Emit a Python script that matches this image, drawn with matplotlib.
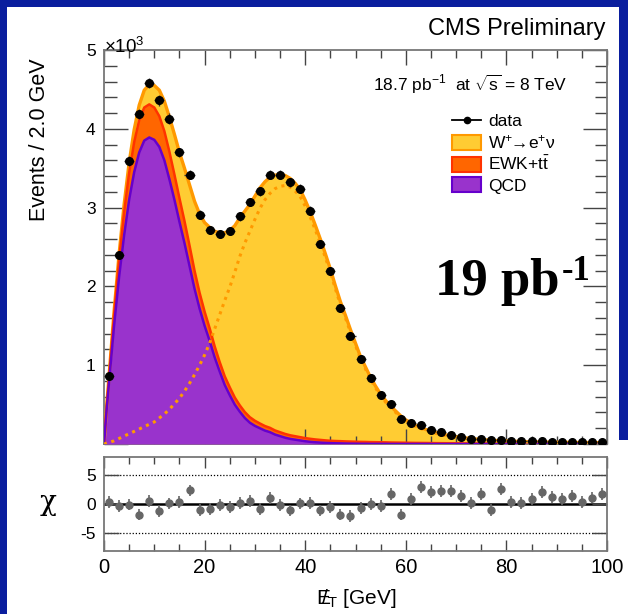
import numpy as np
import matplotlib
matplotlib.use('Agg')
import matplotlib.pyplot as plt
from matplotlib.ticker import MultipleLocator, FixedLocator
from matplotlib.patches import Patch, Rectangle
from matplotlib.lines import Line2D

plt.rcParams['font.family'] = ['Liberation Sans', 'DejaVu Sans']
plt.rcParams['mathtext.fontset'] = 'custom'
plt.rcParams['mathtext.rm'] = 'Liberation Sans'
plt.rcParams['mathtext.it'] = 'Liberation Sans:italic'
plt.rcParams['mathtext.bf'] = 'Liberation Sans:bold'
plt.rcParams['axes.unicode_minus'] = False

# ---------------- data (events in units of 10^3, 2 GeV bins) ----------------
bin_centers = [1, 3, 5, 7, 9, 11, 13, 15, 17, 19, 21, 23, 25, 27, 29, 31, 33, 35, 37, 39,
               41, 43, 45, 47, 49, 51, 53, 55, 57, 59, 61, 63, 65, 67, 69, 71, 73, 75, 77, 79,
               81, 83, 85, 87, 89, 91, 93, 95, 97, 99]
data_k = [0.86, 2.40, 3.59, 4.19, 4.58, 4.36, 4.13, 3.70, 3.42, 2.91,
          2.72, 2.66, 2.70, 2.89, 3.07, 3.21, 3.42, 3.42, 3.32, 3.24,
          2.96, 2.54, 2.19, 1.73, 1.37, 1.08, 0.84, 0.62, 0.51, 0.32,
          0.27, 0.24, 0.18, 0.15, 0.11, 0.09, 0.06, 0.06, 0.045, 0.055,
          0.04, 0.035, 0.035, 0.035, 0.03, 0.03, 0.03, 0.025, 0.025, 0.025]
chi = [0.4, -0.3, -0.1, -1.8, 0.45, -1.25, 0.1, 0.3, 2.3, -1.0,
       -0.85, -0.2, -0.55, 0.2, 0.55, -0.85, 1.0, -0.2, -1.1, 0.1,
       0.2, -1.1, -0.55, -1.8, -2.1, -0.7, -0.05, -0.35, 1.7, -1.8,
       0.85, 2.85, 2.0, 2.15, 2.15, 1.4, 0.15, 1.7, -1.0, 2.55,
       0.4, 0.2, 0.9, 2.0, 1.15, 0.9, 1.4, 0.4, 1.1, 1.7]

# fit components sampled along MET (units of 10^3 events / 2 GeV)
curve_x = [0, 0.5, 1, 2, 3, 4, 5, 6, 7, 8, 9, 10, 11, 12, 13, 14, 15, 16, 17, 18, 19, 20,
           21, 22, 23, 24, 25, 26, 27, 28, 29, 30, 31, 32, 33, 34, 35, 36, 37, 38, 39, 40,
           41, 42, 43, 44, 45, 46, 47, 48, 49, 50, 51, 52, 53, 54, 55, 56, 57, 58, 59, 60,
           62, 64, 66, 68, 70, 72, 74, 76, 78, 80, 82, 84, 86, 88, 90, 92, 94, 96, 98, 100]
qcd_k = [0, 0.42, 0.78, 1.5, 2.12, 2.65, 3.1, 3.45, 3.7, 3.85, 3.89, 3.86, 3.77, 3.6, 3.36,
         3.1, 2.82, 2.55, 2.26, 1.97, 1.72, 1.5, 1.31, 1.1, 0.92, 0.75, 0.62, 0.5, 0.41, 0.33,
         0.27, 0.23, 0.2, 0.17, 0.15, 0.12, 0.1, 0.08, 0.065, 0.055, 0.045, 0.035,
         0.028, 0.022, 0.018, 0.014, 0.011, 0.009, 0.008, 0.006, 0.005, 0.004,
         0.003, 0.003, 0.002, 0.002, 0.002, 0.002, 0.001, 0.001, 0.001, 0.001,
         0.001, 0.001, 0, 0, 0, 0, 0, 0, 0, 0, 0, 0, 0, 0, 0, 0, 0, 0, 0, 0]
ewk_k = [0, 0.03, 0.06, 0.14, 0.22, 0.29, 0.34, 0.38, 0.41, 0.42, 0.42, 0.41, 0.39, 0.37, 0.35,
         0.32, 0.3, 0.28, 0.26, 0.23, 0.2, 0.18, 0.16, 0.14, 0.12, 0.11, 0.1, 0.09, 0.08, 0.075,
         0.07, 0.065, 0.06, 0.058, 0.055, 0.052, 0.05, 0.048, 0.046, 0.044, 0.042, 0.04,
         0.038, 0.036, 0.034, 0.032, 0.03, 0.029, 0.028, 0.027, 0.026, 0.025,
         0.024, 0.023, 0.022, 0.021, 0.02, 0.019, 0.018, 0.017, 0.016, 0.015,
         0.013, 0.012, 0.011, 0.01, 0.009, 0.008, 0.007, 0.007, 0.006, 0.006,
         0.005, 0.005, 0.005, 0.004, 0.004, 0.004, 0.003, 0.003, 0.003, 0.003]
wenu_k = [0, 0.01, 0.02, 0.04, 0.07, 0.1, 0.13, 0.16, 0.19, 0.22, 0.25, 0.28, 0.33, 0.38, 0.44,
          0.51, 0.58, 0.67, 0.77, 0.88, 1.0, 1.13, 1.28, 1.46, 1.64, 1.82, 1.99, 2.18, 2.38, 2.55,
          2.70, 2.85, 2.99, 3.10, 3.18, 3.24, 3.27, 3.28, 3.26, 3.21, 3.14, 3.02,
          2.88, 2.72, 2.55, 2.37, 2.18, 1.97, 1.77, 1.6, 1.42, 1.25,
          1.08, 0.95, 0.82, 0.71, 0.61, 0.53, 0.46, 0.4, 0.34, 0.29,
          0.22, 0.17, 0.135, 0.105, 0.085, 0.068, 0.055, 0.045, 0.038, 0.032,
          0.028, 0.025, 0.022, 0.02, 0.018, 0.017, 0.016, 0.015, 0.014, 0.013]

legend_labels = ['data', r'$\mathrm{W}^{+}\!\!\rightarrow\!\mathrm{e}^{+}\mathrm{\nu}$',
                 r'EWK+t$\bar{\mathrm{t}}$', 'QCD']

# ---------------- styling ----------------
W, H = 628, 614
def fx(px):
    return px / W
def fy(py):
    return 1 - py / H

C_W, E_W = '#ffcc33', '#ff9900'
C_EWK, E_EWK = '#ff6600', '#ff3300'
C_QCD, E_QCD = '#9933cc', '#6600cc'
FRAME = '#0a1e9e'
SPINE = '#777777'

fig = plt.figure(figsize=(W / 100, H / 100), dpi=100)
fig.patch.set_facecolor('white')

# blue slide frame
for (x0, y0, w, h) in [(0, 0, 7, H), (0, 0, W, 7), (619, 0, W - 619, 440)]:
    fig.add_artist(Rectangle((fx(x0), fy(y0 + h)), w / W, h / H,
                             transform=fig.transFigure, facecolor=FRAME,
                             edgecolor='none', zorder=0))

ax = fig.add_axes([fx(104), fy(444), (607 - 104) / W, (444 - 50) / H])
rax = fig.add_axes([fx(104), fy(551), (607 - 104) / W, (551 - 457) / H])

cx = np.array(curve_x)
q = np.array(qcd_k)
e = np.array(ewk_k)
w = np.array(wenu_k)
qe = q + e
tot = qe + w

ax.fill_between(cx, 0, tot, color=C_W, lw=0, zorder=1)
ax.fill_between(cx, 0, qe, color=C_EWK, lw=0, zorder=2)
ax.fill_between(cx, 0, q, color=C_QCD, lw=0, zorder=3)
ax.plot(cx, tot, color=E_W, lw=2.4, zorder=4)
ax.plot(cx, qe, color=E_EWK, lw=1.8, zorder=4)
ax.plot(cx, q, color=E_QCD, lw=1.8, zorder=4)
ax.plot(cx, w, color=E_W, lw=2.2, ls=(0, (1, 1.5)), zorder=5)

bc = np.array(bin_centers)
dk = np.array(data_k)
derr = np.sqrt(dk * 1000.0) / 1000.0
ax.errorbar(bc, dk, xerr=1.0, yerr=derr, fmt='o', color='black', ms=5.5,
            ecolor='#333333', elinewidth=1.0, capsize=0, zorder=6)

ax.set_xlim(0, 100)
ax.set_ylim(0, 5)
ax.xaxis.set_major_locator(MultipleLocator(20))
ax.xaxis.set_minor_locator(MultipleLocator(5))
ax.yaxis.set_major_locator(FixedLocator([0, 1, 2, 3, 4, 5]))
ax.yaxis.set_minor_locator(MultipleLocator(0.2))
ax.set_yticklabels(['', '1', '2', '3', '4', '5'])
ax.tick_params(axis='both', which='both', direction='in', top=True, right=True,
               color='#444444', width=1.0)
ax.tick_params(axis='y', which='major', length=17, labelsize=12.5, pad=6)
ax.tick_params(axis='y', which='minor', length=9)
ax.tick_params(axis='x', which='major', length=11, labelbottom=False)
ax.tick_params(axis='x', which='minor', length=6)
for s in ax.spines.values():
    s.set_color(SPINE)
    s.set_linewidth(1.3)

handles = [Line2D([], [], color='black', marker='o', ms=4.5, lw=1.3),
           Patch(facecolor=C_W, edgecolor=E_W, lw=1.5),
           Patch(facecolor=C_EWK, edgecolor=E_EWK, lw=1.5),
           Patch(facecolor=C_QCD, edgecolor=E_QCD, lw=1.5)]
ax.legend(handles, legend_labels, loc='upper left',
          bbox_to_anchor=(fx(452), fy(113)), bbox_transform=fig.transFigure,
          frameon=False, fontsize=12.5, handlelength=1.68, handleheight=0.95,
          handletextpad=0.42, labelspacing=0.22, borderpad=0, borderaxespad=0)

# ratio panel
rax.axhline(0, color='black', lw=1.8, zorder=1)
rax.axhline(5, color='black', lw=0.9, ls=(0, (1, 1.5)), zorder=1)
rax.axhline(-5, color='black', lw=0.9, ls=(0, (1, 1.5)), zorder=1)
rax.errorbar(bc, chi, yerr=1.0, fmt='o', color='#666666', ms=5,
             elinewidth=1.2, capsize=0, zorder=3)
rax.set_xlim(0, 100)
rax.set_ylim(-8, 8)
rax.xaxis.set_major_locator(MultipleLocator(20))
rax.xaxis.set_minor_locator(MultipleLocator(5))
rax.yaxis.set_major_locator(FixedLocator([-5, 0, 5]))
rax.tick_params(axis='both', which='both', direction='in', top=True, right=True,
                color='#444444', width=1.0)
rax.tick_params(axis='x', which='major', length=8, labelsize=14.5, pad=5)
rax.tick_params(axis='x', which='minor', length=5)
rax.tick_params(axis='y', which='major', length=11, labelsize=12.5, pad=6)
for s in rax.spines.values():
    s.set_color(SPINE)
    s.set_linewidth(1.3)

# texts
fig.text(fx(605), fy(35), 'CMS Preliminary', ha='right', va='baseline', fontsize=17)
fig.text(fx(104), fy(53), r'$\times$10$^{3}$', ha='left', va='baseline', fontsize=13.5)
fig.text(fx(40), fy(58), 'Events / 2.0 GeV', rotation=90, ha='center', va='top',
         fontsize=15.5)
fig.text(fx(373), fy(91), r'18.7 pb$^{-1}$  at $\sqrt{\mathrm{s}}$ = 8 TeV',
         ha='left', va='baseline', fontsize=12.5)
fig.text(fx(435), fy(295), '19 pb', family='Liberation Serif', weight='bold',
         fontsize=38, ha='left', va='baseline')
fig.text(fx(562), fy(280), '-1', family='Liberation Serif', weight='bold',
         fontsize=25, ha='left', va='baseline')
fig.text(fx(48), fy(503), 'χ', family=['DejaVu Serif', 'DejaVu Sans'],
         ha='center', va='center', fontsize=20)
fig.text(fx(356), fy(598), r'$\mathrm{E}\!\!\!/_{\mathrm{T}}$ [GeV]',
         ha='center', va='center', fontsize=15)

fig.savefig('out.png', dpi=100)
